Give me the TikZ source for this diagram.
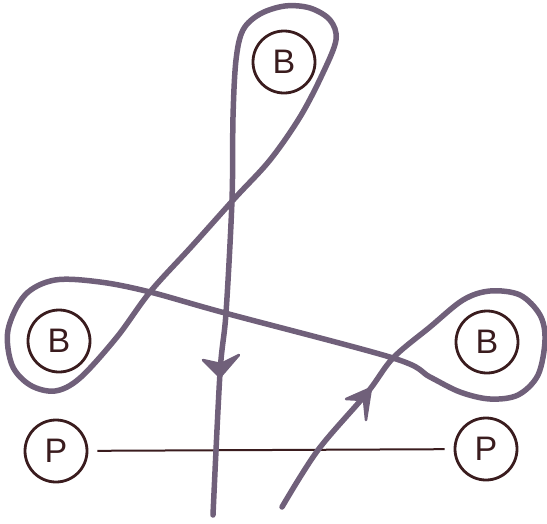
\documentclass[tikz,border=0pt]{standalone}
\usepackage{fontspec}
\setmainfont{Liberation Sans}
\definecolor{loopgray}{RGB}{112,96,122}
\definecolor{inkbrown}{RGB}{58,28,30}
\tikzset{
  station/.style={circle, draw=inkbrown, line width=2.8pt, minimum size=62pt, inner sep=0pt,
    text=inkbrown, font=\fontsize{34}{34}\selectfont},
  plink/.style={inkbrown, line width=2pt, shorten <=9pt, shorten >=9pt},
  loopline/.style={loopgray, line width=5.5pt, line cap=round, line join=round},
  barbhead/.style={loopgray, fill=loopgray, line width=2.5pt, line join=round}
}

\begin{document}
\begin{tikzpicture}[x=1pt, y=-1pt]
  \useasboundingbox (0,0) rectangle (547,523);
  \node[station] (btop)   at (284,62)  {B};
  \node[station] (bleft)  at (59,341)  {B};
  \node[station] (bright) at (487,342) {B};
  \node[station] (pleft)  at (56,451)  {P};
  \node[station] (pright) at (486,449) {P};
  \draw[plink] (pleft) -- (pright);
  % one directed curve through the three loops
  \draw[loopline]
    plot[smooth, tension=0.55] coordinates {
      (282,507) (318,450) (367,393) (393,358)
      (430,327) (463,300) (490,291) (520,295) (540,315) (545,340)
      (538,375) (518,395) (490,399) (460,392) (430,377) (393,358)
      (225,313) (150,292) (100,282) (55,280) (25,295)
      (8,330) (12,365) (30,385) (55,391) (80,378) (117,337)
      (150,292) (192,246) (235,198) (270,160) (300,117) (322,75)
      (336,40) (330,20) (310,8) (285,6) (260,14) (243,30)
      (236,60) (233,117) (232,200) (226,313) (220,373) (213,515)};
  % arrow heads
  \draw[barbhead] (203,360) -- (220,377) -- (239,355) -- (221,364) -- cycle;
  \draw[barbhead] (346,399) -- (371,388) -- (366,420) -- (364,400) -- cycle;
\end{tikzpicture}
\end{document}
